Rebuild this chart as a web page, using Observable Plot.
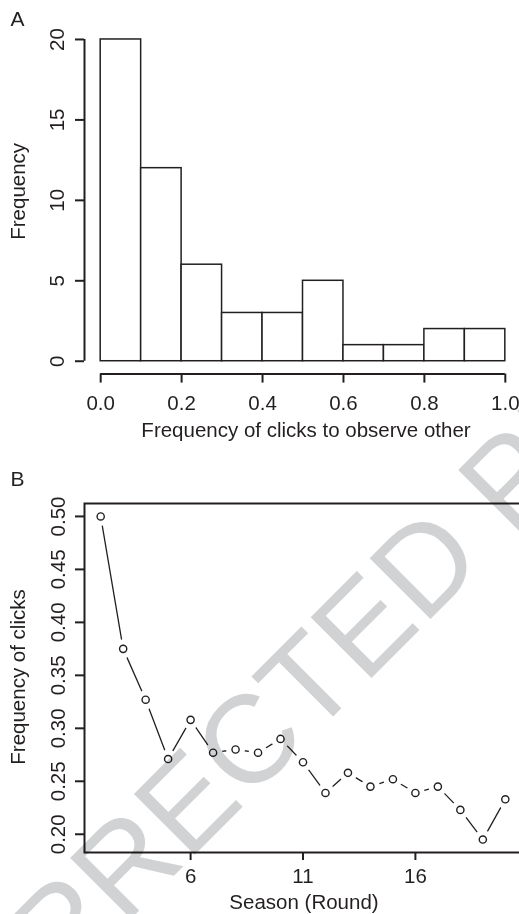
<!DOCTYPE html>
<html><head><meta charset="utf-8">
<script src="https://cdn.jsdelivr.net/npm/d3@7"></script>
<script src="https://cdn.jsdelivr.net/npm/@observablehq/plot@0.6"></script>
<style>
html,body{margin:0;padding:0;background:#fff;overflow:hidden;}
#wrap{position:relative;width:519px;height:914px;overflow:hidden;background:#fff;}
#wrap svg{display:block;max-width:none !important;}
.pl{position:absolute;left:0;}
#wm{position:absolute;left:0;top:0;mix-blend-mode:multiply;pointer-events:none;}
</style></head><body><div id="wrap"></div>
<script>
// ---- Panel A: histogram ----
const binLo = [0.0, 0.1, 0.2, 0.3, 0.4, 0.5, 0.6, 0.7, 0.8, 0.9];
const binHi = [0.1, 0.2, 0.3, 0.4, 0.5, 0.6, 0.7, 0.8, 0.9, 1.0];
const counts = [20, 12, 6, 3, 3, 5, 1, 1, 2, 2];
const histXTicks = [0.0, 0.2, 0.4, 0.6, 0.8, 1.0];
const histYTicks = [0, 5, 10, 15, 20];
// ---- Panel B: frequency of clicks by round ----
const rounds = [2, 3, 4, 5, 6, 7, 8, 9, 10, 11, 12, 13, 14, 15, 16, 17, 18, 19, 20];
const clickFreq = [0.500, 0.375, 0.327, 0.271, 0.308, 0.277, 0.280, 0.277, 0.290, 0.268,
                   0.239, 0.258, 0.245, 0.252, 0.239, 0.245, 0.223, 0.195, 0.233];
const roundTicks = [6, 11, 16];
const clickYTicks = [0.20, 0.25, 0.30, 0.35, 0.40, 0.45, 0.50];
// text
const panelTags = ["A", "B"];
const histXLabel = "Frequency of clicks to observe other";
const histYLabel = "Frequency";
const lineXLabel = "Season (Round)";
const lineYLabel = "Frequency of clicks";
const watermark = "UNCORRECTED PROOF";

const ink = "#231f20";
const font = '"Liberation Sans", Arial, Helvetica, sans-serif';
const fs = 20.5;
const style = {fontFamily: font, fontSize: fs + "px", color: ink, background: "transparent", overflow: "visible", maxWidth: "none"};

// extended domains (R-style 4% padding)
const padX = (binHi[binHi.length - 1] - binLo[0]) * 0.04;
const padY = d3.max(counts) * 0.04;
const histXDomain = [binLo[0] - padX, binHi[binHi.length - 1] + padX];
const histYDomain = [-padY, d3.max(counts) + padY];

const A = Plot.plot({
  width: 530, height: 460,
  marginLeft: 84, marginRight: 9, marginTop: 26.1, marginBottom: 86.4,
  style,
  x: {domain: histXDomain},
  y: {domain: histYDomain},
  marks: [
    Plot.rectY(counts, {x1: (d, i) => binLo[i], x2: (d, i) => binHi[i], y1: 0, y2: d => d,
      fill: "white", stroke: ink, strokeWidth: 1.5}),
    Plot.ruleX([histXDomain[0]], {y1: histYTicks[0], y2: histYTicks[histYTicks.length - 1], stroke: ink, strokeWidth: 2}),
    Plot.ruleY([histYDomain[0]], {x1: histXTicks[0], x2: histXTicks[histXTicks.length - 1], stroke: ink, strokeWidth: 2}),
    Plot.axisY({ticks: histYTicks, tickSize: 9, tickFormat: () => "", label: null, strokeWidth: 2, stroke: ink}),
    Plot.text(histYTicks, {y: d => d, text: d => String(d), frameAnchor: "left", textAnchor: "middle", lineAnchor: "middle",
      rotate: -90, dx: -27, fontSize: fs, fill: ink}),
    Plot.axisX({ticks: histXTicks, tickSize: 9, tickPadding: 12, tickFormat: d3.format(".1f"), label: null,
      strokeWidth: 2, stroke: ink, fontSize: fs, fill: ink}),
    Plot.text([histYLabel], {frameAnchor: "left", textAnchor: "middle", lineAnchor: "middle", rotate: -90,
      dx: 18 - 84, dy: -9, fontSize: fs, fill: ink}),
    Plot.text([histXLabel], {frameAnchor: "bottom", textAnchor: "middle", lineAnchor: "middle", dx: 3, dy: 56.8, fontSize: fs, fill: ink}),
    Plot.text([panelTags[0]], {frameAnchor: "top-left", dx: -74, dy: -16, textAnchor: "start", lineAnchor: "top", fontSize: 21, fill: ink})
  ]
});

const cPad = (d3.max(clickFreq) - d3.min(clickFreq)) * 0.04;
const rPad = (d3.max(rounds) - d3.min(rounds)) * 0.04;
const lineXDomain = [d3.min(rounds) - rPad, d3.max(rounds) + rPad];
const lineYDomain = [d3.min(clickFreq) - cPad, d3.max(clickFreq) + cPad];

const B = Plot.plot({
  width: 530, height: 454,
  marginLeft: 84, marginRight: 9, marginTop: 43, marginBottom: 62,
  style,
  x: {domain: lineXDomain},
  y: {domain: lineYDomain},
  marks: [
    Plot.frame({stroke: ink, strokeWidth: 2}),
    Plot.line(rounds, {x: d => d, y: (d, i) => clickFreq[i], stroke: ink, strokeWidth: 1.3}),
    Plot.dot(rounds, {x: d => d, y: (d, i) => clickFreq[i], r: 9.5, fill: "white", stroke: "none"}),
    Plot.dot(rounds, {x: d => d, y: (d, i) => clickFreq[i], r: 3.6, fill: "none", stroke: ink, strokeWidth: 1.4}),
    Plot.axisY({ticks: clickYTicks, tickSize: 9, tickFormat: () => "", label: null, strokeWidth: 2, stroke: ink}),
    Plot.text(clickYTicks, {y: d => d, text: d3.format(".2f"), frameAnchor: "left", textAnchor: "middle", lineAnchor: "middle",
      rotate: -90, dx: -26, fontSize: fs, fill: ink}),
    Plot.axisX({ticks: roundTicks, tickSize: 8, tickPadding: 8, label: null, strokeWidth: 2, stroke: ink, fontSize: fs, fill: ink}),
    Plot.text([lineYLabel], {frameAnchor: "left", textAnchor: "middle", lineAnchor: "middle", rotate: -90,
      dx: 18 - 84, dy: -1, fontSize: fs, fill: ink}),
    Plot.text([lineXLabel], {frameAnchor: "bottom", textAnchor: "middle", lineAnchor: "middle", dx: 1, dy: 902 - 852, fontSize: fs, fill: ink}),
    Plot.text([panelTags[1]], {frameAnchor: "top-left", dx: -74, dy: -32, textAnchor: "start", lineAnchor: "top", fontSize: 21, fill: ink})
  ]
});

const wrap = document.getElementById("wrap");
A.classList.add("pl"); A.style.top = "0px";
B.classList.add("pl"); B.style.top = "460px";
wrap.appendChild(A);
wrap.appendChild(B);

// watermark overlay (multiply so black ink stays on top)
const wm = d3.create("svg").attr("id", "wm").attr("width", 519).attr("height", 914);
wm.append("text")
  .attr("transform", "translate(281,705) rotate(-45)")
  .attr("text-anchor", "middle")
  .attr("dy", "0.36em")
  .attr("font-family", font)
  .attr("font-size", 125)
  .attr("fill", "#d1d2d3")
  .text(watermark);
wrap.appendChild(wm.node());
</script>
</body></html>
